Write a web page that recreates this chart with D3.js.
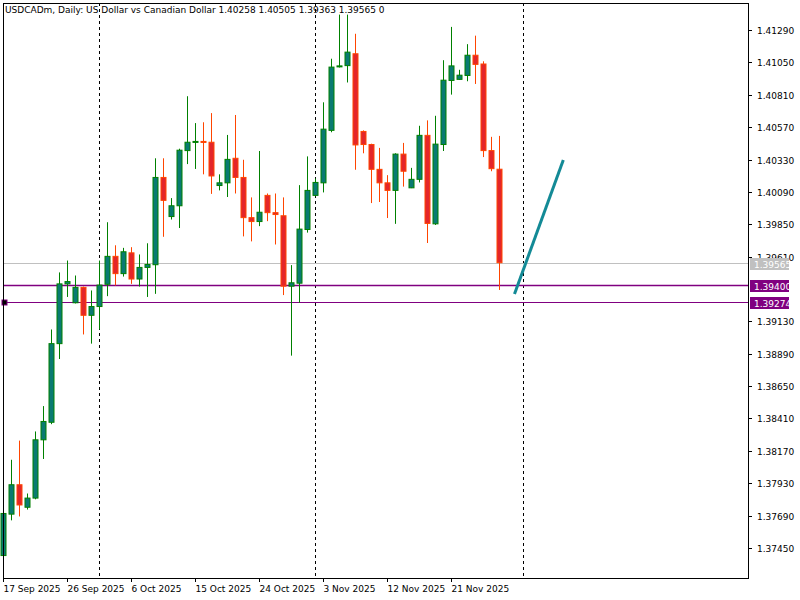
<!DOCTYPE html>
<html><head><meta charset="utf-8">
<script src="https://cdn.jsdelivr.net/npm/d3@7"></script>
<style>body{margin:0;background:#fff}svg{display:block}text{font-family:"DejaVu Sans",sans-serif;font-size:9px}</style>
</head><body><svg id="c" width="800" height="600"></svg>
<script>
const opens  = [1.37394,1.37701,1.37919,1.37752,1.37820,1.38252,1.38382,1.38965,1.39408,1.39268,1.39382,1.39175,1.39240,1.39405,1.39612,1.39484,1.39638,1.39444,1.39530,1.39550,1.40197,1.39907,1.39987,1.40396,1.40458,1.40464,1.40458,1.40137,1.40157,1.40339,1.40197,1.39899,1.39870,1.40064,1.39936,1.39913,1.39391,1.39413,1.39811,1.40064,1.40157,1.40546,1.41018,1.41026,1.41114,1.40538,1.40441,1.40257,1.40157,1.40101,1.40370,1.40120,1.40183,1.40509,1.39853,1.40441,1.40916,1.40924,1.40953,1.41103,1.41038,1.40396,1.40258];
const highs  = [1.37720,1.38104,1.38246,1.37854,1.38314,1.38502,1.39070,1.39493,1.39581,1.39470,1.39388,1.39359,1.39581,1.39865,1.39694,1.39675,1.39680,1.39626,1.39709,1.40339,1.40339,1.40044,1.40410,1.40799,1.40600,1.40606,1.40674,1.40220,1.40512,1.40660,1.40328,1.40049,1.40393,1.40078,1.40078,1.40049,1.39547,1.40140,1.40353,1.40189,1.40754,1.41077,1.41404,1.41404,1.41262,1.40546,1.40447,1.40416,1.40214,1.40376,1.40453,1.40268,1.40580,1.40620,1.40654,1.41066,1.41313,1.40995,1.41185,1.41248,1.41058,1.40498,1.40505];
const lows   = [1.37388,1.37655,1.37684,1.37735,1.37811,1.38110,1.38368,1.38851,1.39311,1.39263,1.39033,1.38965,1.39070,1.39317,1.39396,1.39462,1.39408,1.39388,1.39311,1.39334,1.39757,1.39885,1.39822,1.40296,1.40260,1.40220,1.40075,1.40101,1.40052,1.40078,1.39760,1.39723,1.39836,1.39873,1.39700,1.39325,1.38876,1.39268,1.39788,1.40058,1.40086,1.40532,1.41012,1.40901,1.40254,1.40376,1.40007,1.40015,1.39896,1.39853,1.40129,1.40118,1.40160,1.39711,1.39845,1.40393,1.40811,1.40921,1.40910,1.40890,1.40348,1.40243,1.39363];
const closes = [1.37706,1.37919,1.37769,1.37820,1.38252,1.38388,1.38965,1.39408,1.39425,1.39382,1.39175,1.39240,1.39399,1.39612,1.39484,1.39646,1.39444,1.39530,1.39552,1.40197,1.40027,1.39987,1.40399,1.40458,1.40464,1.40461,1.40208,1.40157,1.40331,1.40197,1.39899,1.39870,1.39939,1.39936,1.39922,1.39391,1.39416,1.39814,1.40101,1.40160,1.40555,1.41015,1.41024,1.41126,1.40438,1.40441,1.40257,1.40157,1.40101,1.40370,1.40243,1.40183,1.40509,1.39856,1.40444,1.40918,1.41024,1.40955,1.41103,1.41035,1.40396,1.40262,1.39565];
const dateLabels = ["17 Sep 2025","26 Sep 2025","6 Oct 2025","15 Oct 2025","24 Oct 2025","3 Nov 2025","12 Nov 2025","21 Nov 2025"];
const dateIdx = [0,8,16,24,32,40,48,56];
const separatorIdx = [12,39,65];
const priceTicks = [1.41290,1.41050,1.40810,1.40570,1.40330,1.40090,1.39850,1.39610,1.39130,1.38890,1.38650,1.38410,1.38170,1.37930,1.37690,1.37450];
const levelPrices = [1.39565,1.39400,1.39274];
const levelColors = ["#c0c0c0","#800080","#800080"];
const trendIdx = [63.9,70];
const trendPrices = [1.39333,1.40326];

const svg = d3.select("#c");
const L=3,R=748,T=3,B=578;
const x = d3.scaleLinear().domain([0,1]).range([3.3,11.3]);
const y = d3.scaleLinear().domain([1.41290,1.37450]).range([30,548]);

separatorIdx.forEach(i=>svg.append("line").attr("x1",Math.round(x(i))+0.5).attr("x2",Math.round(x(i))+0.5).attr("y1",T).attr("y2",B).attr("stroke","#000").attr("stroke-dasharray","3,3"));
levelPrices.forEach((p,k)=>svg.append("line").attr("x1",L).attr("x2",R).attr("y1",Math.round(y(p))+0.5).attr("y2",Math.round(y(p))+0.5).attr("stroke",levelColors[k]).attr("stroke-width",k==1?1.3:1));
svg.append("rect").attr("x",2).attr("y",Math.round(y(levelPrices[2]))-2).attr("width",5).attr("height",5).attr("fill","#000").attr("stroke","#800080");
svg.append("rect").attr("x",750).attr("y",Math.round(y(levelPrices[2]))-2).attr("width",5).attr("height",5).attr("fill","#000");

const data = opens.map((o,i)=>({i,o,h:highs[i],l:lows[i],c:closes[i]}));
const g = svg.append("g");
data.forEach(d=>{
  const up = d.c>=d.o, cx=Math.round(x(d.i))+0.5;
  const wc = up?"#008000":"#ff4500";
  g.append("line").attr("x1",cx).attr("x2",cx).attr("y1",y(d.h)).attr("y2",y(d.l)).attr("stroke",wc);
  const top=y(Math.max(d.o,d.c)), bot=y(Math.min(d.o,d.c));
  g.append("rect").attr("x",cx-2.5).attr("y",top).attr("width",5).attr("height",Math.max(1,bot-top))
   .attr("fill",up?"#0a7a72":"#e3262a").attr("stroke",wc).attr("stroke-width",1);
});
svg.append("line").attr("x1",x(trendIdx[0])).attr("y1",y(trendPrices[0])).attr("x2",x(trendIdx[1])).attr("y2",y(trendPrices[1])).attr("stroke","#138a96").attr("stroke-width",3);

svg.append("rect").attr("x",L+0.5).attr("y",T+0.5).attr("width",R-L).attr("height",B-T).attr("fill","none").attr("stroke","#000");
priceTicks.forEach(p=>{
  const yy=Math.round(y(p))+0.5;
  svg.append("line").attr("x1",R).attr("x2",R+4).attr("y1",yy).attr("y2",yy).attr("stroke","#000");
  svg.append("text").attr("x",757).attr("y",yy+3.5).text(p.toFixed(5));
});
levelPrices.forEach((p,k)=>{
  const yy=Math.round(y(p));
  svg.append("rect").attr("x",750).attr("y",yy-5).attr("width",39).attr("height",12).attr("fill",levelColors[k]);
  svg.append("text").attr("x",754).attr("y",yy+4.5).attr("fill","#fff").text(p.toFixed(5));
});
dateIdx.forEach((i,k)=>{
  const xx=Math.round(x(i))+0.5;
  svg.append("line").attr("x1",xx).attr("x2",xx).attr("y1",B).attr("y2",B+4).attr("stroke","#000");
  svg.append("text").attr("x",xx).attr("y",592).text(dateLabels[k]);
});
svg.append("text").attr("x",5).attr("y",13).text("USDCADm, Daily:  US Dollar vs Canadian Dollar  1.40258 1.40505 1.39363 1.39565  0");
</script></body></html>
